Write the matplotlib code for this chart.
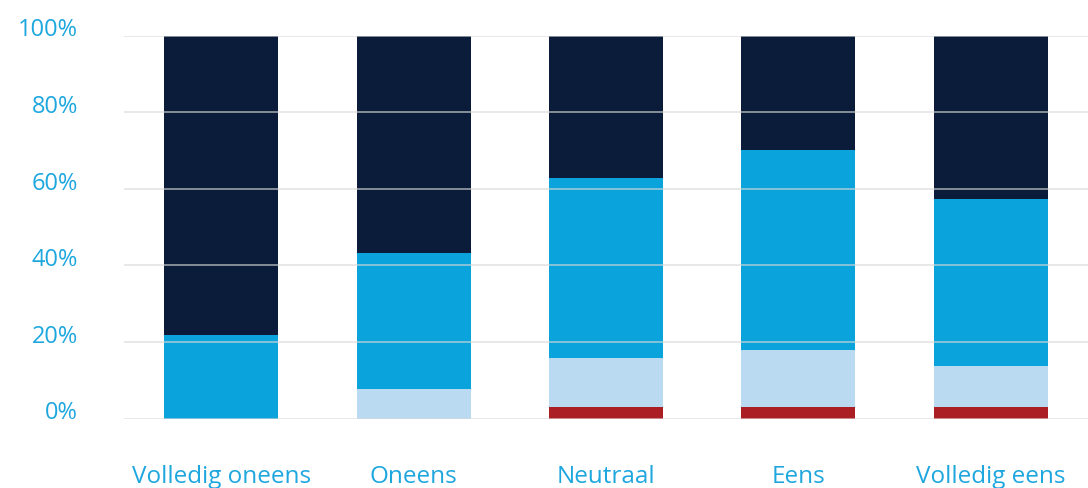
import numpy as np
import matplotlib
matplotlib.use("Agg")
import matplotlib.pyplot as plt
import matplotlib.transforms as mtransforms

categories = ["Volledig oneens", "Oneens", "Neutraal", "Eens", "Volledig eens"]
red = [0.0, 0.0, 3.1, 3.1, 3.1]
light = [0.0, 7.8, 12.6, 14.7, 10.5]
medium = [21.7, 35.5, 47.2, 52.2, 43.8]
dark = [100 - r - l - m for r, l, m in zip(red, light, medium)]

c_red = "#ab1e23"
c_light = "#badaf2"
c_medium = "#0aa3db"
c_dark = "#0a1c3a"
c_text = "#1ea7df"

plt.rcParams["font.family"] = ["Open Sans", "DejaVu Sans"]

fig = plt.figure(figsize=(10.88, 4.89), dpi=100)
ax = fig.add_axes([124 / 1088, 69.5 / 489, 964 / 1088, 383 / 489])

x = np.arange(len(categories))
w = 0.593
bottom = np.zeros(len(categories))
for vals, col in [(red, c_red), (light, c_light), (medium, c_medium), (dark, c_dark)]:
    ax.bar(x, vals, w, bottom=bottom, color=col, zorder=1)
    bottom += np.array(vals)

ax.set_xlim(-0.505, 4.505)
ax.set_ylim(0, 100)
ax.set_yticks([0, 20, 40, 60, 80, 100])
ax.set_yticklabels(["0%", "20%", "40%", "60%", "80%", "100%"])
ax.set_xticks(x)
ax.set_xticklabels(categories)

ax.grid(axis="y", color="#d8d8d8", linewidth=1.2, alpha=0.7, zorder=3)
ax.set_axisbelow(False)
for s in ax.spines.values():
    s.set_visible(False)
ax.tick_params(axis="both", length=0, colors=c_text)
ax.tick_params(axis="y", pad=33, labelsize=17)
ax.tick_params(axis="x", pad=33, labelsize=17.5)

off = mtransforms.ScaledTranslation(0, 9 / 100, fig.dpi_scale_trans)
for lab in ax.get_yticklabels():
    lab.set_transform(lab.get_transform() + off)

fig.savefig("out.png", dpi=100)
